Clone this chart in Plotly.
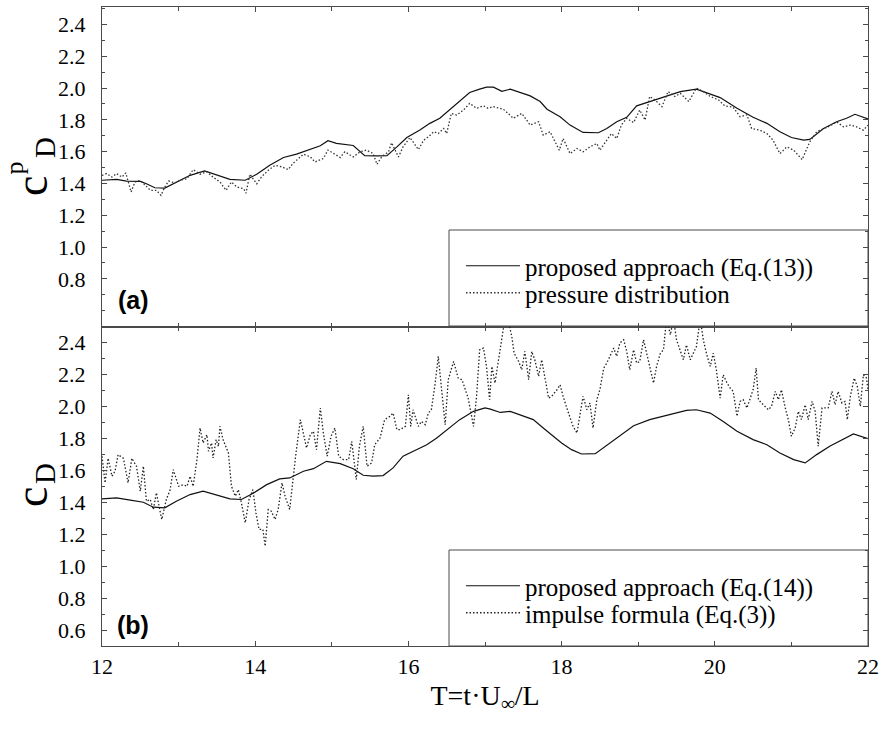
import plotly.graph_objects as go

# ---------------- data ----------------
# panel (a): proposed approach (Eq.(13))
t_eq13 = [12.00, 12.19, 12.32, 12.50, 12.58, 12.69, 12.82, 12.97, 13.15, 13.34, 13.50, 13.67, 13.87,
          14.02, 14.19, 14.37, 14.54, 14.72, 14.85, 14.95, 15.06, 15.28, 15.43, 15.59, 15.72, 15.85,
          15.98, 16.15, 16.28, 16.41, 16.54, 16.67, 16.80, 16.93, 17.02, 17.11, 17.22, 17.33, 17.46,
          17.59, 17.72, 17.81, 17.98, 18.11, 18.28, 18.48, 18.59, 18.72, 18.85, 18.98, 19.15, 19.37,
          19.55, 19.76, 19.89, 20.07, 20.29, 20.50, 20.68, 20.85, 21.00, 21.16, 21.24, 21.42, 21.59,
          21.72, 21.83, 22.00]
cd_eq13 = [1.420, 1.426, 1.415, 1.413, 1.398, 1.373, 1.371, 1.409, 1.451, 1.479, 1.451, 1.426, 1.420,
           1.458, 1.514, 1.563, 1.584, 1.616, 1.637, 1.669, 1.652, 1.639, 1.575, 1.573, 1.575, 1.630,
           1.689, 1.736, 1.778, 1.810, 1.862, 1.915, 1.972, 1.993, 2.006, 2.006, 1.980, 1.993, 1.972,
           1.951, 1.915, 1.867, 1.820, 1.767, 1.721, 1.719, 1.746, 1.788, 1.816, 1.888, 1.915, 1.947,
           1.978, 1.993, 1.972, 1.940, 1.873, 1.816, 1.778, 1.725, 1.689, 1.672, 1.677, 1.746, 1.788,
           1.810, 1.835, 1.806]

# panel (a): pressure distribution
t_press = [12.00, 12.06, 12.13, 12.19, 12.26, 12.31, 12.38, 12.43, 12.50, 12.56, 12.63, 12.71, 12.77,
           12.82, 12.87, 12.95, 13.02, 13.11, 13.19, 13.28, 13.37, 13.45, 13.54, 13.62, 13.69, 13.76,
           13.85, 13.88, 13.93, 14.02, 14.08, 14.17, 14.26, 14.35, 14.43, 14.50, 14.56, 14.63, 14.72,
           14.78, 14.89, 14.95, 15.04, 15.11, 15.17, 15.28, 15.37, 15.45, 15.54, 15.59, 15.65, 15.74,
           15.78, 15.87, 15.93, 16.02, 16.13, 16.20, 16.26, 16.33, 16.39, 16.46, 16.50, 16.56, 16.63,
           16.72, 16.80, 16.89, 16.98, 17.04,
           17.11, 17.24, 17.37, 17.48, 17.59, 17.70, 17.76, 17.85, 17.97, 18.02, 18.11, 18.20, 18.28,
           18.37, 18.46, 18.50, 18.59, 18.65, 18.72, 18.78, 18.85, 18.94, 19.02, 19.09, 19.15, 19.22,
           19.31, 19.39, 19.48, 19.55, 19.66, 19.76, 19.85, 19.94, 20.05, 20.13, 20.24, 20.33, 20.42,
           20.48, 20.59, 20.68, 20.76, 20.85, 20.94, 21.03, 21.14, 21.24, 21.33, 21.42, 21.50, 21.59,
           21.68, 21.77, 21.85, 21.94, 22.00]
cd_press = [1.451, 1.462, 1.440, 1.462, 1.440, 1.466, 1.346, 1.409, 1.420, 1.388, 1.357, 1.357, 1.325,
            1.378, 1.415, 1.403, 1.420, 1.430, 1.487, 1.458, 1.473, 1.440, 1.409, 1.357, 1.409, 1.378,
            1.367, 1.339, 1.458, 1.398, 1.440, 1.483, 1.514, 1.504, 1.487, 1.529, 1.557, 1.584, 1.567,
            1.535, 1.557, 1.610, 1.584, 1.563, 1.599, 1.567, 1.599, 1.610, 1.588, 1.520, 1.567, 1.599,
            1.656, 1.567, 1.630, 1.689, 1.613, 1.672, 1.693, 1.725, 1.714, 1.746, 1.714, 1.841, 1.830,
            1.862, 1.904, 1.873, 1.888, 1.873,
            1.883, 1.867, 1.810, 1.841, 1.767, 1.788, 1.704, 1.725, 1.609, 1.683, 1.588, 1.620, 1.599,
            1.630, 1.651, 1.609, 1.672, 1.714, 1.683, 1.767, 1.810, 1.783, 1.862, 1.799, 1.947, 1.925,
            1.883, 1.978, 1.947, 1.967, 1.915, 2.000, 1.978, 1.947, 1.925, 1.888, 1.879, 1.820, 1.831,
            1.746, 1.735, 1.714, 1.672, 1.588, 1.630, 1.609, 1.550, 1.662, 1.725, 1.746, 1.761, 1.788,
            1.756, 1.767, 1.756, 1.735, 1.767]

# panel (b): proposed approach (Eq.(14))
t_eq14 = [12.00, 12.19, 12.37, 12.54, 12.67, 12.82, 12.97, 13.15, 13.32, 13.50, 13.67, 13.82, 13.98,
          14.15, 14.32, 14.45, 14.63, 14.76, 14.93, 15.11, 15.28, 15.41, 15.54, 15.67, 15.80, 15.93,
          16.11, 16.24, 16.37, 16.54, 16.67, 16.85, 17.00, 17.07, 17.20, 17.33, 17.50, 17.63, 17.76,
          17.89, 18.00, 18.13, 18.26, 18.44, 18.57, 18.72, 18.94, 19.15, 19.42, 19.63, 19.76, 19.94,
          20.11, 20.29, 20.50, 20.68, 20.85, 21.03, 21.18, 21.33, 21.50, 21.68, 21.81, 22.00]
cd_eq14 = [1.421, 1.427, 1.413, 1.400, 1.369, 1.365, 1.406, 1.448, 1.469, 1.442, 1.421, 1.417, 1.458,
           1.510, 1.546, 1.552, 1.594, 1.610, 1.656, 1.642, 1.610, 1.569, 1.563, 1.567, 1.615, 1.688,
           1.729, 1.760, 1.802, 1.865, 1.917, 1.969, 1.990, 1.983, 1.962, 1.969, 1.942, 1.917, 1.865,
           1.813, 1.771, 1.729, 1.702, 1.704, 1.750, 1.798, 1.879, 1.917, 1.948, 1.975, 1.979, 1.958,
           1.906, 1.844, 1.792, 1.760, 1.708, 1.667, 1.646, 1.698, 1.750, 1.792, 1.827, 1.798]

# panel (b): impulse formula (Eq.(3))
t_imp = [12.00, 12.04, 12.08, 12.13, 12.17, 12.21, 12.28, 12.34, 12.39, 12.45,
         12.50, 12.54, 12.58, 12.63, 12.67, 12.71, 12.78, 12.84, 12.89, 12.93,
         13.00, 13.06, 13.11, 13.15, 13.19, 13.24, 13.28, 13.32, 13.37, 13.39,
         13.43, 13.45, 13.49, 13.52, 13.54, 13.58, 13.65, 13.69, 13.74, 13.78,
         13.82, 13.87, 13.92, 13.97, 14.01, 14.05, 14.10, 14.13, 14.17, 14.21,
         14.26, 14.30, 14.35, 14.39, 14.45, 14.50, 14.53, 14.59, 14.63, 14.67,
         14.72, 14.76, 14.80, 14.85, 14.89, 14.94, 14.99, 15.04, 15.09, 15.15,
         15.22, 15.26, 15.32, 15.36, 15.41, 15.46, 15.52, 15.56, 15.63, 15.69,
         15.76, 15.80, 15.85, 15.89, 15.96, 16.00, 16.03, 16.06, 16.13, 16.17,
         16.22, 16.26, 16.30, 16.35, 16.39, 16.43, 16.48, 16.52, 16.59, 16.65,
         16.70, 16.78, 16.85, 16.89, 16.93, 16.98, 17.02, 17.06,
         17.09, 17.13, 17.17, 17.22, 17.26, 17.31, 17.35, 17.38, 17.44, 17.48,
         17.52, 17.57, 17.61, 17.65, 17.70, 17.74, 17.78, 17.83, 17.87, 17.94,
         17.98, 18.02, 18.09, 18.15, 18.20, 18.24, 18.28, 18.33, 18.37, 18.41,
         18.46, 18.50, 18.55, 18.59, 18.63, 18.68, 18.72, 18.76, 18.81, 18.85,
         18.89, 18.94, 18.98, 19.02, 19.07, 19.11, 19.15, 19.20, 19.24, 19.29,
         19.33, 19.37, 19.42, 19.46, 19.50, 19.55, 19.59, 19.63, 19.68, 19.72,
         19.76, 19.81, 19.85, 19.89, 19.94, 19.98, 20.02, 20.07, 20.11, 20.16,
         20.20, 20.24, 20.29, 20.33, 20.37, 20.42, 20.46, 20.50, 20.54, 20.57,
         20.61, 20.66, 20.70, 20.74, 20.79, 20.83, 20.87, 20.92, 20.96, 21.00,
         21.05, 21.09, 21.13, 21.18, 21.22, 21.27, 21.31, 21.35, 21.40, 21.44,
         21.48, 21.53, 21.57, 21.61, 21.66, 21.70, 21.73, 21.77, 21.82, 21.86,
         21.90, 21.94, 21.98, 22.00]
cd_imp = [1.688, 1.521, 1.675, 1.563, 1.594, 1.698, 1.675, 1.521, 1.675, 1.625,
          1.469, 1.625, 1.406, 1.417, 1.354, 1.459, 1.292, 1.417, 1.479, 1.604,
          1.500, 1.510, 1.500, 1.563, 1.500, 1.667, 1.865, 1.771, 1.823, 1.719,
          1.771, 1.677, 1.792, 1.750, 1.875, 1.792, 1.708, 1.500, 1.438, 1.479,
          1.396, 1.271, 1.417, 1.479, 1.333, 1.230, 1.230, 1.125, 1.354, 1.344,
          1.292, 1.354, 1.521, 1.438, 1.354, 1.583, 1.698, 1.917, 1.823, 1.740,
          1.823, 1.844, 1.729, 1.990, 1.833, 1.688, 1.813, 1.865, 1.688, 1.667,
          1.667, 1.781, 1.542, 1.750, 1.875, 1.625, 1.646, 1.760, 1.802, 1.917,
          1.938, 1.958, 1.854, 1.854, 1.875, 2.073, 1.875, 1.979, 1.875, 1.906,
          1.885, 1.958, 1.979, 2.146, 2.313, 2.125, 1.885, 2.167, 2.281, 2.177,
          2.167, 2.052, 1.875, 2.063, 2.354, 2.365, 2.250, 2.042,
          2.250, 2.146, 2.271, 2.458, 2.550, 2.520, 2.438, 2.333, 2.281, 2.229,
          2.344, 2.167, 2.344, 2.292, 2.188, 2.292, 2.188, 2.052, 2.063, 2.104,
          2.135, 2.063, 1.958, 1.875, 1.833, 1.938, 2.063, 1.979, 2.021, 1.865,
          2.042, 2.104, 2.240, 2.271, 2.313, 2.365, 2.313, 2.396, 2.417, 2.344,
          2.229, 2.354, 2.271, 2.281, 2.417, 2.333, 2.250, 2.146, 2.250, 2.333,
          2.354, 2.550, 2.448, 2.550, 2.417, 2.354, 2.292, 2.385, 2.292, 2.333,
          2.375, 2.550, 2.417, 2.333, 2.250, 2.333, 2.229, 2.052, 2.198, 2.146,
          2.115, 2.094, 1.938, 2.031, 2.042, 1.990, 2.042, 2.104, 2.240, 2.042,
          2.021, 2.000, 1.979, 2.000, 2.094, 2.042, 2.104, 1.990, 1.917, 1.813,
          1.865, 1.969, 1.917, 2.010, 1.917, 2.031, 1.969, 1.750, 1.990, 1.990,
          1.990, 2.094, 2.010, 2.094, 2.021, 2.031, 1.917, 2.063, 2.177, 2.125,
          2.000, 2.198, 2.177, 2.104]

x_ticks = [12, 14, 16, 18, 20, 22]
y_ticks_a = [0.8, 1.0, 1.2, 1.4, 1.6, 1.8, 2.0, 2.2, 2.4]
y_ticks_b = [0.6, 0.8, 1.0, 1.2, 1.4, 1.6, 1.8, 2.0, 2.2, 2.4]

# ---------------- figure ----------------
SERIF = "Liberation Serif"
AX = "#4a4a4a"
W, H = 893, 744
L, R, T, B = 102, 25, 7, 98

def px_x(p):
    return (p - L) / (W - L - R)

def px_y(p):
    return (H - B - p) / (H - T - B)

fig = go.Figure()
fig.add_trace(go.Scatter(x=t_eq13, y=cd_eq13, mode="lines", name="proposed approach (Eq.(13))",
                         line=dict(color="#111", width=1.2), xaxis="x", yaxis="y", legend="legend"))
fig.add_trace(go.Scatter(x=t_press, y=cd_press, mode="lines", name="pressure distribution",
                         line=dict(color="#333", width=1.3, dash="1.5px,2px"), xaxis="x", yaxis="y",
                         legend="legend2"))
fig.add_trace(go.Scatter(x=t_eq14, y=cd_eq14, mode="lines", name="proposed approach (Eq.(14))",
                         line=dict(color="#111", width=1.2), xaxis="x2", yaxis="y2", legend="legend3"))
fig.add_trace(go.Scatter(x=t_imp, y=cd_imp, mode="lines", name="impulse formula (Eq.(3))",
                         line=dict(color="#222", width=1.3, dash="1.5px,2px"), xaxis="x2", yaxis="y2",
                         legend="legend4"))

tick_font = dict(family=SERIF, size=22, color="black")
common_axis = dict(showline=True, linecolor=AX, linewidth=1, mirror="ticks", ticks="inside",
                   tickcolor=AX, ticklen=5, showgrid=False, zeroline=False)

fig.update_layout(
    width=W, height=H, margin=dict(l=L, r=R, t=T, b=B),
    font=dict(family=SERIF, color="black", size=22),
    paper_bgcolor="white", plot_bgcolor="white",
    xaxis=dict(domain=[0, 1], anchor="y", range=[12, 22], tickvals=x_ticks, showticklabels=False,
               minor=dict(dtick=1, ticks="inside", ticklen=4, tickcolor=AX), tickfont=tick_font,
               **common_axis),
    xaxis2=dict(domain=[0, 1], anchor="y2", range=[12, 22], matches="x", tickvals=x_ticks,
                ticktext=[str(v) for v in x_ticks], ticklabelstandoff=1, tickfont=tick_font,
                minor=dict(dtick=1, ticks="inside", ticklen=4, tickcolor=AX),
                title=dict(text="T=t·U<sub>∞</sub>/L", font=dict(family=SERIF, size=28, color="black"),
                           standoff=6),
                **common_axis),
    yaxis=dict(domain=[0.5, 1], anchor="x", range=[0.5, 2.51], tickvals=y_ticks_a,
               ticktext=[f"{v:.1f}" for v in y_ticks_a], ticklabelstandoff=11, tickfont=tick_font,
               minor=dict(dtick=0.1, tick0=0.5, ticks="inside", ticklen=3, tickcolor=AX), **common_axis),
    yaxis2=dict(domain=[0, 0.5], anchor="x2", range=[0.5, 2.5], tickvals=y_ticks_b,
                ticktext=[f"{v:.1f}" for v in y_ticks_b], ticklabelstandoff=11, tickfont=tick_font,
                minor=dict(dtick=0.1, tick0=0.5, ticks="inside", ticklen=3, tickcolor=AX), **common_axis),
    showlegend=True,
)

leg_common = dict(x=px_x(461), xanchor="left", yanchor="middle", bgcolor="rgba(0,0,0,0)",
                  borderwidth=0, font=dict(family=SERIF, size=25, color="black"), itemwidth=54)
fig.update_layout(
    legend=dict(y=px_y(266), **leg_common),
    legend2=dict(y=px_y(293), **leg_common),
    legend3=dict(y=px_y(586), **leg_common),
    legend4=dict(y=px_y(613), **leg_common),
)

# legend frames
for top in (230, 550):
    fig.add_shape(type="rect", xref="paper", yref="paper", x0=px_x(449), x1=1,
                  y0=px_y(top + 96), y1=px_y(top), line=dict(color=AX, width=1),
                  fillcolor="white", layer="below")

# y-axis titles (c with stacked super/subscript)
def ann(text, x, y, size, angle=-90, family=SERIF):
    fig.add_annotation(text=text, xref="paper", yref="paper", x=px_x(x), y=px_y(y),
                       xanchor="center", yanchor="middle", showarrow=False, textangle=angle,
                       font=dict(family=family, size=size, color="black"))

ann("c", 31, 186, 46)
ann("p", 14.5, 168, 26)
ann("D", 45, 148, 29)
ann("c", 31, 497, 46)
ann("D", 45, 474, 29)

ann("<b>(a)</b>", 133, 300, 25, angle=0, family="Liberation Sans")
ann("<b>(b)</b>", 133, 625, 25, angle=0, family="Liberation Sans")

fig.write_html("out.html", config={"displayModeBar": False},
               post_script="document.body.style.margin='0';")
